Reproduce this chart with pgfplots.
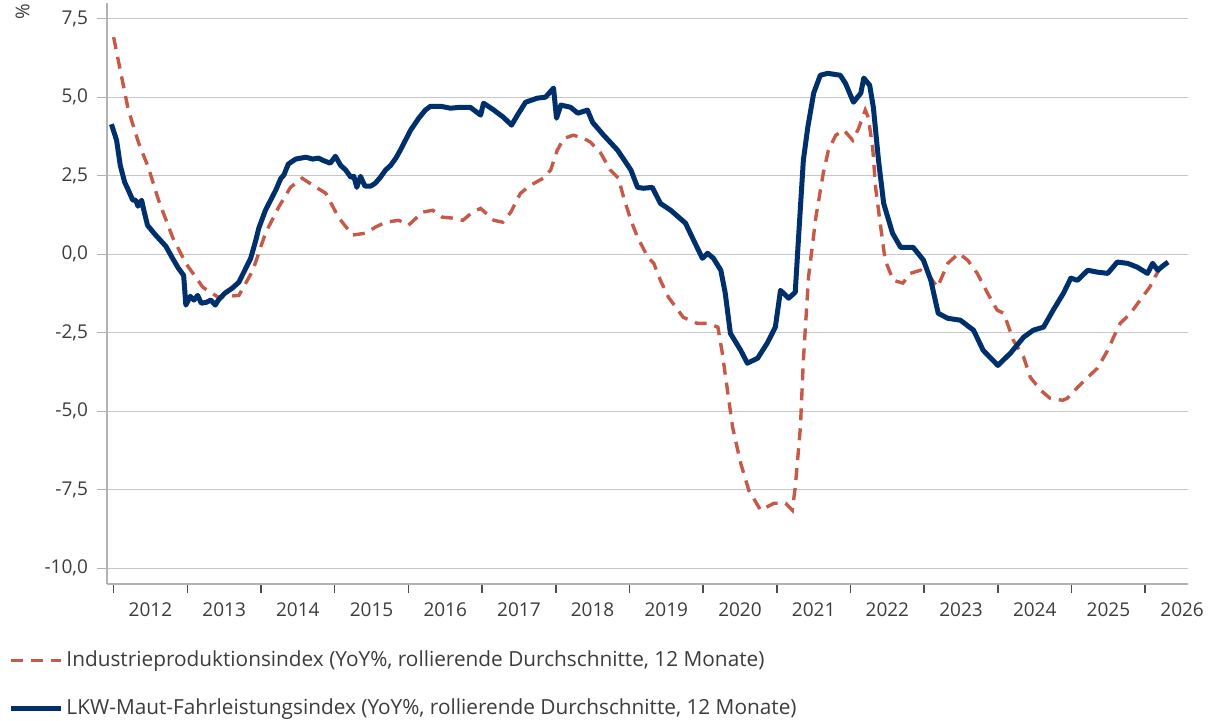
\documentclass[border=0pt]{standalone}
\usepackage{fontspec}
\setmainfont{Open Sans}
\usepackage{pgfplots}
\pgfplotsset{compat=1.18}
\definecolor{navy}{RGB}{0,48,107}
\definecolor{rust}{RGB}{197,90,72}
\definecolor{txt}{RGB}{60,60,60}
\begin{document}
\begin{tikzpicture}
\path[use as bounding box] (-53.5pt,-68.5pt) rectangle (554pt,292pt);
\begin{axis}[
  scale only axis,
  width=540.5pt, height=290.5pt,
  xmin=2011.91, xmax=2026.58,
  ymin=-10.5, ymax=8.0,
  axis x line*=bottom, axis y line*=left,
  axis line style={draw=black!30, line width=0.7pt},
  ytick={-10,-7.5,-5,-2.5,0,2.5,5,7.5},
  yticklabels={-10{,}0,-7{,}5,-5{,}0,-2{,}5,0{,}0,2{,}5,5{,}0,7{,}5},
  xtick={2012.5,2013.5,2014.5,2015.5,2016.5,2017.5,2018.5,2019.5,2020.5,2021.5,2022.5,2023.5,2024.5,2025.5,2026.5},
  xticklabels={2012,2013,2014,2015,2016,2017,2018,2019,2020,2021,2022,2023,2024,2025,2026},
  minor xtick={2012,2013,2014,2015,2016,2017,2018,2019,2020,2021,2022,2023,2024,2025,2026},
  tick align=outside,
  x tick style={draw=none},
  minor x tick style={draw=black!70, line width=0.8pt},
  minor tick length=4.5pt,
  y tick style={draw=black!30, line width=0.7pt},
  major tick length=5pt,
  ymajorgrids=true,
  grid style={draw=black!22, line width=0.7pt},
  tick label style={font=\fontsize{9.5}{11}\selectfont, text=txt},
  xticklabel style={yshift=-1pt},
  yticklabel style={xshift=-1pt},
  clip=false,
  legend style={at={(-0.0915,-0.108)}, anchor=north west, draw=none, fill=none,
    font=\fontsize{10.4}{12}\selectfont, text=txt, row sep=10.5pt,
    legend cell align=left, inner sep=0pt, nodes={inner xsep=1.5pt}},
  legend image code/.code={\draw[#1] (0pt,0pt) -- (25pt,0pt);},
]
\addplot[rust, line width=1.7pt, dash pattern=on 6pt off 4pt] coordinates {
(2012.00,6.91) (2012.09,5.86) (2012.20,4.59) (2012.34,3.54) (2012.47,2.77) (2012.61,1.72) (2012.80,0.54) (2012.98,-0.29)
(2013.21,-1.05) (2013.42,-1.37) (2013.70,-1.31) (2013.89,-0.51) (2014.06,0.67) (2014.24,1.50) (2014.40,2.13) (2014.56,2.42)
(2014.70,2.20) (2014.88,1.94) (2015.05,1.18) (2015.24,0.61) (2015.42,0.67) (2015.55,0.86) (2015.69,1.02) (2015.87,1.08)
(2016.00,0.92) (2016.19,1.34) (2016.33,1.40) (2016.46,1.18) (2016.60,1.15) (2016.74,1.08) (2016.87,1.34) (2016.98,1.46)
(2017.16,1.08) (2017.28,1.02) (2017.39,1.34) (2017.52,1.94) (2017.66,2.20) (2017.83,2.42) (2017.93,2.68) (2018.02,3.31)
(2018.11,3.69) (2018.24,3.79) (2018.38,3.69) (2018.47,3.57) (2018.61,3.22) (2018.74,2.68) (2018.85,2.42) (2018.92,1.82)
(2019.02,1.08) (2019.11,0.54) (2019.25,-0.10) (2019.33,-0.29) (2019.42,-0.83) (2019.53,-1.37) (2019.73,-2.01) (2019.92,-2.20)
(2020.06,-2.20) (2020.20,-2.32) (2020.26,-3.15) (2020.33,-4.33) (2020.40,-5.51) (2020.51,-6.66) (2020.62,-7.52) (2020.78,-8.15)
(2020.96,-7.93) (2021.12,-7.93) (2021.21,-8.15) (2021.25,-7.42) (2021.32,-5.51) (2021.36,-3.38) (2021.43,-0.73) (2021.53,1.18)
(2021.63,2.58) (2021.70,3.31) (2021.80,3.79) (2021.91,3.95) (2022.03,3.63) (2022.11,4.01) (2022.20,4.59) (2022.24,4.36)
(2022.30,3.41) (2022.34,2.13) (2022.41,0.86) (2022.47,-0.19) (2022.58,-0.83) (2022.71,-0.92) (2022.81,-0.61) (2022.95,-0.51)
(2023.06,-0.67) (2023.18,-1.05) (2023.32,-0.29) (2023.47,0.03) (2023.59,-0.19) (2023.72,-0.61) (2023.86,-1.24) (2023.99,-1.78)
(2024.08,-1.88) (2024.21,-2.74) (2024.35,-3.28) (2024.44,-3.92) (2024.58,-4.33) (2024.71,-4.59) (2024.88,-4.65) (2024.94,-4.59)
(2025.08,-4.24) (2025.22,-3.92) (2025.35,-3.63) (2025.49,-3.06) (2025.57,-2.64) (2025.66,-2.20) (2025.80,-1.88) (2025.93,-1.46)
(2026.06,-1.05) (2026.13,-0.73) (2026.21,-0.41)
};
\addlegendentry{Industrieproduktionsindex (YoY\%, rollierende Durchschnitte, 12 Monate)}
\addplot[navy, line width=2.5pt, line join=round] coordinates {
(2011.97,4.14) (2012.04,3.63) (2012.09,2.83) (2012.15,2.29) (2012.20,2.04) (2012.26,1.72) (2012.30,1.72) (2012.33,1.53)
(2012.38,1.72) (2012.41,1.40) (2012.46,0.92) (2012.57,0.61) (2012.71,0.25) (2012.80,-0.13) (2012.88,-0.45) (2012.95,-0.67)
(2012.98,-1.62) (2013.04,-1.34) (2013.09,-1.46) (2013.14,-1.31) (2013.19,-1.56) (2013.26,-1.53) (2013.32,-1.46) (2013.38,-1.62)
(2013.42,-1.46) (2013.51,-1.24) (2013.61,-1.08) (2013.70,-0.89) (2013.78,-0.51) (2013.86,-0.13) (2013.93,0.45) (2013.97,0.83)
(2014.06,1.40) (2014.13,1.72) (2014.20,2.04) (2014.27,2.42) (2014.31,2.52) (2014.37,2.87) (2014.47,3.03) (2014.61,3.09)
(2014.70,3.03) (2014.78,3.06) (2014.84,2.99) (2014.94,2.90) (2015.01,3.12) (2015.08,2.83) (2015.15,2.68) (2015.22,2.45)
(2015.26,2.48) (2015.30,2.13) (2015.35,2.48) (2015.41,2.17) (2015.49,2.17) (2015.55,2.26) (2015.62,2.45) (2015.69,2.68)
(2015.76,2.83) (2015.83,3.06) (2015.89,3.31) (2015.96,3.63) (2016.03,3.95) (2016.14,4.33) (2016.23,4.59) (2016.30,4.71)
(2016.44,4.71) (2016.57,4.65) (2016.71,4.68) (2016.84,4.68) (2016.98,4.43) (2017.02,4.81) (2017.16,4.59) (2017.29,4.36)
(2017.40,4.11) (2017.48,4.43) (2017.59,4.84) (2017.75,4.97) (2017.86,5.00) (2017.97,5.29) (2018.01,4.33) (2018.07,4.75)
(2018.20,4.68) (2018.30,4.49) (2018.43,4.59) (2018.50,4.20) (2018.65,3.79) (2018.84,3.31) (2019.02,2.68) (2019.11,2.13)
(2019.19,2.10) (2019.31,2.13) (2019.42,1.62) (2019.56,1.40) (2019.76,0.99) (2019.87,0.45) (2019.99,-0.13) (2020.06,0.03)
(2020.14,-0.13) (2020.24,-0.51) (2020.30,-1.24) (2020.37,-2.52) (2020.51,-3.06) (2020.60,-3.47) (2020.74,-3.31) (2020.87,-2.83)
(2020.98,-2.32) (2021.05,-1.15) (2021.16,-1.40) (2021.25,-1.21) (2021.29,0.35) (2021.36,2.99) (2021.42,4.04) (2021.50,5.13)
(2021.59,5.70) (2021.69,5.76) (2021.86,5.70) (2021.93,5.45) (2022.04,4.84) (2022.14,5.13) (2022.18,5.61) (2022.26,5.38)
(2022.31,4.68) (2022.38,2.99) (2022.45,1.62) (2022.57,0.67) (2022.68,0.22) (2022.85,0.22) (2022.99,-0.19) (2023.09,-0.83)
(2023.19,-1.88) (2023.32,-2.04) (2023.49,-2.10) (2023.67,-2.42) (2023.80,-3.06) (2024.00,-3.54) (2024.17,-3.15) (2024.35,-2.64)
(2024.48,-2.42) (2024.62,-2.32) (2024.75,-1.78) (2024.89,-1.24) (2024.99,-0.76) (2025.08,-0.83) (2025.22,-0.51) (2025.35,-0.57)
(2025.49,-0.61) (2025.62,-0.25) (2025.76,-0.29) (2025.89,-0.41) (2026.03,-0.61) (2026.10,-0.29) (2026.17,-0.51) (2026.25,-0.35)
(2026.31,-0.25)
};
\addlegendentry{LKW-Maut-Fahrleistungsindex (YoY\%, rollierende Durchschnitte, 12 Monate)}
\node[rotate=90, font=\fontsize{9.5}{11}\selectfont, text=txt] at (axis description cs:-0.078,0.985) {\%};
\end{axis}
\end{tikzpicture}
\end{document}
